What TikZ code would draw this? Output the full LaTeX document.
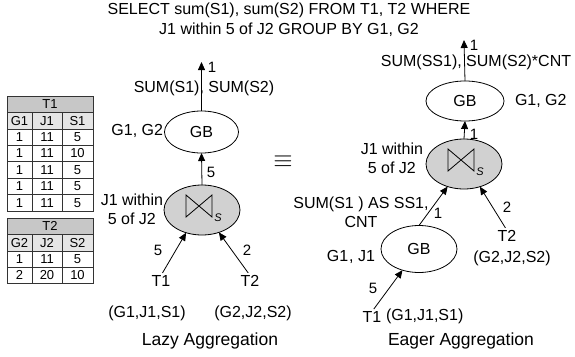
\documentclass[tikz,border=0pt]{standalone}
\usepackage{fontspec}
\setmainfont{Liberation Sans}
\usetikzlibrary{arrows.meta,shapes.geometric}
\begin{document}
\begin{tikzpicture}[x=1pt,y=-1pt,
  every node/.style={font=\fontsize{16}{19}\selectfont, inner sep=0pt, outer sep=0pt},
  op/.style={ellipse, draw, line width=0.8pt, minimum width=76pt, minimum height=44pt},
  joinop/.style={op, fill=black!18, minimum height=50pt},
  arr/.style={-{Triangle[length=8pt,width=7pt]}, line width=0.8pt},
  lbl/.style={font=\fontsize{15}{17}\selectfont},
  tab/.style={font=\fontsize{13}{15}\selectfont},
  captiontext/.style={font=\fontsize{17.5}{20}\selectfont},
  grid/.style={line width=0.6pt, draw=black!80},
  bowtie/.pic={\draw[line width=0.8pt, line join=miter] (-13,-11) -- (-13,11) -- (13,-11) -- (13,11) -- cycle;}
]
\useasboundingbox (0,0) rectangle (575,356);

% ---------- title ----------
\node[align=center, font=\fontsize{16}{20}\selectfont] (title) at (289,20)
  {SELECT sum(S1), sum(S2) FROM T1, T2 WHERE\\J1 within 5 of J2 GROUP BY G1, G2};

% ---------- table T1 ----------
\def\rh{16.4}
\fill[black!22] (7,96) rectangle (93,{96+\rh});
\fill[black!10] (7,{96+\rh}) rectangle (93,{96+2*\rh});
\draw[grid] (7,96) rectangle (93,{96+7*\rh});
\foreach \k in {1,...,6} \draw[grid] (7,{96+\k*\rh}) -- (93,{96+\k*\rh});
\draw[grid] (32,{96+\rh}) -- (32,{96+7*\rh});
\draw[grid] (62,{96+\rh}) -- (62,{96+7*\rh});
\node[tab] (t1head) at (50,{96+0.5*\rh}) {T1};
\foreach \a/\b/\c [count=\i] in {G1/J1/S1,1/11/5,1/11/10,1/11/5,1/11/5,1/11/5} {
  \node[tab] (t1a\i) at (19.5,{96+(\i+0.5)*\rh}) {\a};
  \node[tab] (t1b\i) at (47,{96+(\i+0.5)*\rh}) {\b};
  \node[tab] (t1c\i) at (77.5,{96+(\i+0.5)*\rh}) {\c};
}

% ---------- table T2 ----------
\fill[black!22] (7,218) rectangle (93,{218+\rh});
\fill[black!10] (7,{218+\rh}) rectangle (93,{218+2*\rh});
\draw[grid] (7,218) rectangle (93,{218+4*\rh});
\foreach \k in {1,2,3} \draw[grid] (7,{218+\k*\rh}) -- (93,{218+\k*\rh});
\draw[grid] (32,{218+\rh}) -- (32,{218+4*\rh});
\draw[grid] (62,{218+\rh}) -- (62,{218+4*\rh});
\node[tab] (t2head) at (50,{218+0.5*\rh}) {T2};
\foreach \a/\b/\c [count=\i] in {G2/J2/S2,1/11/5,2/20/10} {
  \node[tab] (t2a\i) at (19.5,{218+(\i+0.5)*\rh}) {\a};
  \node[tab] (t2b\i) at (47,{218+(\i+0.5)*\rh}) {\b};
  \node[tab] (t2c\i) at (77.5,{218+(\i+0.5)*\rh}) {\c};
}

% ---------- lazy aggregation ----------
\node[op, minimum width=74pt, minimum height=42pt] (gbL) at (201.5,132) {GB};
\node[joinop] (joinL) at (202,210) {};
\pic at (199,206) {bowtie};
\node[font=\fontsize{11}{13}\selectfont\itshape] (sL) at (218,218) {S};
\coordinate (topL) at (201.5,62);
\draw[arr] (gbL.north) -- (topL);
\node[lbl] (oneL) at (212,67) {1};
\node (sumL) at (204,88) {SUM(S1), SUM(S2)};
\node[anchor=east] (grpL) at (163,131) {G1, G2};
\draw[arr] (joinL.north) -- (gbL.south);
\node[lbl] (fiveL) at (211,172) {5};
\node[align=center, anchor=east] (condL) at (163,209) {J1 within\\5 of J2};
\node (T1L) at (161,281) {T1};
\node (T2L) at (250,281) {T2};
\draw[arr, shorten <=3pt] (T1L.north) -- (joinL.235);
\draw[arr, shorten <=3pt] (T2L.north) -- (joinL.307);
\node[lbl] (fiveL2) at (158,250) {5};
\node[lbl] (twoL) at (247,250) {2};
\node (attrT1L) at (147,313) {(G1,J1,S1)};
\node (attrT2L) at (253,313) {(G2,J2,S2)};
\node[captiontext] (lazy) at (210,341) {Lazy Aggregation};

% ---------- equivalence ----------
\node[font=\fontsize{24}{24}\selectfont] (equiv) at (283,162) {$\equiv$};

% ---------- eager aggregation ----------
\node[op, minimum width=78pt, minimum height=40pt] (gbE) at (465,101) {GB};
\node[joinop] (joinE) at (464,164) {};
\pic at (461,160) {bowtie};
\node[font=\fontsize{11}{13}\selectfont\itshape] (sE) at (480,172) {S};
\node[op, minimum height=47pt] (gbE2) at (419,249) {GB};
\coordinate (topE) at (464,40);
\draw[arr] (gbE.north) -- (topE);
\node[lbl] (oneE) at (474,45) {1};
\node (sumE) at (476,62) {SUM(SS1), SUM(S2)*CNT};
\node[anchor=west] (grpE) at (515,101) {G1, G2};
\draw[arr] (joinE.north) -- (gbE.south);
\node[lbl] (oneE2) at (474,134) {1};
\node[align=center, anchor=east] (condE) at (423,158) {J1 within\\5 of J2};
\draw[arr] (gbE2.north) -- (joinE.234);
\node[lbl] (oneE3) at (438,213) {1};
\node (T2E) at (507,236) {T2};
\draw[arr, shorten <=3pt] (T2E.north) -- (joinE.305);
\node[lbl] (twoE) at (507,207) {2};
\node (attrT2E) at (512,258) {(G2,J2,S2)};
\node[align=center] (aggE) at (361,212) {SUM(S1 ) AS SS1,\\CNT};
\node[anchor=east] (grpE2) at (375,257) {G1\kern1pt, J1};
\node (T1E) at (372,317) {T1};
\node[anchor=west] (attrT1E) at (386,316) {(G1,J1,S1)};
\draw[arr, shorten <=3pt] (T1E.north) -- (gbE2.232);
\node[lbl] (fiveE) at (373,288) {5};
\node[captiontext] (eager) at (461,341) {Eager Aggregation};
\end{tikzpicture}
\end{document}
